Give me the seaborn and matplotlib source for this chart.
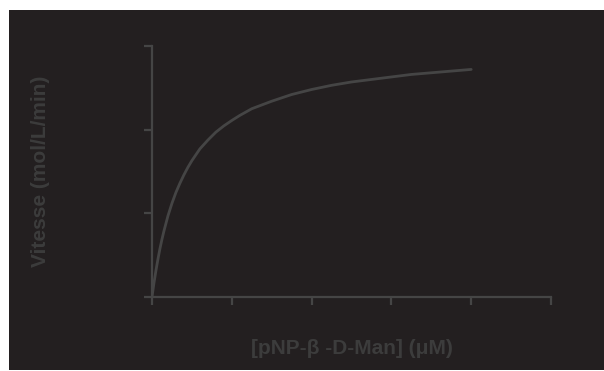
import matplotlib
matplotlib.use("Agg")
import matplotlib.pyplot as plt
import seaborn as sns
import pandas as pd
from matplotlib.patches import Rectangle

# Substrate concentration (µM) and velocity (mol/L/min)
substrate = [0.0, 0.025, 0.05, 0.075, 0.1, 0.125, 0.15, 0.2, 0.25, 0.3, 0.35, 0.4,
             0.45, 0.5, 0.6, 0.7, 0.8, 0.9, 1.0, 1.1, 1.25, 1.5, 1.75, 2.0, 2.25,
             2.5, 2.75, 3.0, 3.25, 3.5, 3.75, 4.0]
velocity = [0.0, 0.17, 0.32, 0.455, 0.58, 0.69, 0.79, 0.97, 1.12, 1.25, 1.36, 1.46,
            1.55, 1.63, 1.77, 1.875, 1.97, 2.045, 2.11, 2.17, 2.25, 2.34, 2.42, 2.48,
            2.53, 2.57, 2.60, 2.63, 2.66, 2.68, 2.70, 2.72]
x_ticks = [0, 1, 2, 3, 4, 5]
y_ticks = [0, 1, 2, 3]
x_label = "[pNP-β -D-Man] (μM)"
y_label = "Vitesse (mol/L/min)"

df = pd.DataFrame({"S": substrate, "V": velocity})

sns.set_style("ticks")
plt.rcParams["font.family"] = ["Liberation Sans", "DejaVu Sans"]

BG = "#231f20"
FG = "#454545"
TXT = "#3c3c3c"

fig = plt.figure(figsize=(6.04, 3.71), dpi=100, facecolor="white")
bg = Rectangle((9 / 604, 1 / 371), 595 / 604, 360 / 371,
               transform=fig.transFigure, facecolor=BG,
               edgecolor="none", zorder=-10)
fig.patches.append(bg)
ax = fig.add_axes([152 / 604, 1 - 297 / 371, 399 / 604, 251 / 371])
ax.set_facecolor("none")
ax.set_zorder(5)

sns.lineplot(data=df, x="S", y="V", ax=ax, color=FG, linewidth=2.0)

ax.set_xlim(0, 5)
ax.set_ylim(0, 3)
ax.set_xticks(x_ticks)
ax.set_yticks(y_ticks)
ax.set_xticklabels([])
ax.set_yticklabels([])
ax.tick_params(length=5.5, width=1.6, color=FG, direction="out")
for s in ["top", "right"]:
    ax.spines[s].set_visible(False)
for s in ["left", "bottom"]:
    ax.spines[s].set_color(FG)
    ax.spines[s].set_linewidth(1.6)

ax.set_xlabel(x_label, fontsize=15, fontweight="bold", color=TXT)
ax.set_ylabel(y_label, fontsize=15, fontweight="bold", color=TXT)
ax.xaxis.set_label_coords(0.5, -0.168)
ax.yaxis.set_label_coords(-0.255, 0.5)

fig.savefig("out.png", dpi=100, facecolor="white")
